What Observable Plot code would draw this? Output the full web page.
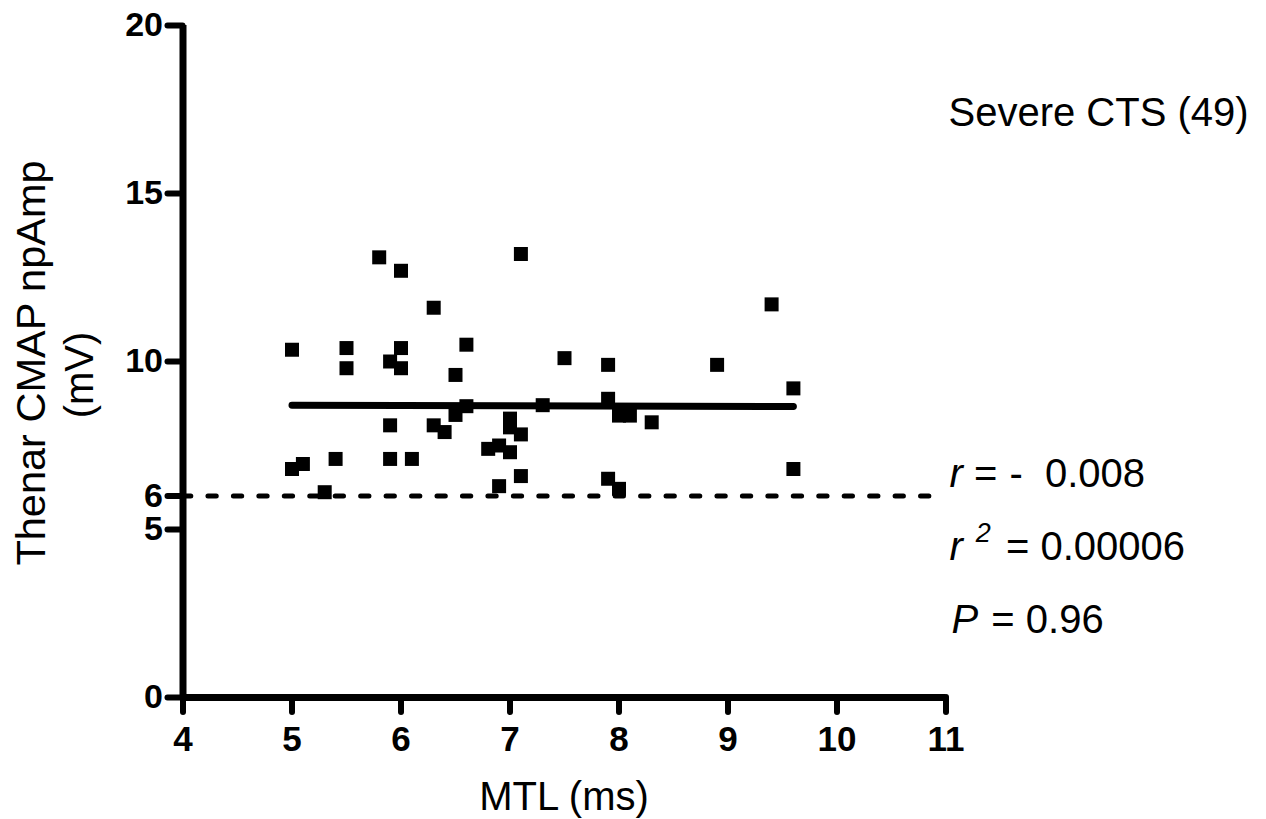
<!DOCTYPE html>
<html><head><meta charset="utf-8">
<script src="https://cdn.jsdelivr.net/npm/d3@7"></script>
<script src="https://cdn.jsdelivr.net/npm/@observablehq/plot@0.6"></script>
<style>
body{margin:0;background:#fff}
svg{display:block}
text{white-space:pre}
</style>
</head><body><div id="chart"></div>
<script>
// ---- data ----
const mtl = [5.8, 6.0, 7.1, 6.3, 5.0, 5.5, 6.0, 6.6, 5.5, 5.9, 6.0, 6.5, 7.5, 6.6, 6.5, 7.3, 5.9, 6.3, 6.4, 7.0, 7.0, 7.1, 6.8, 6.9, 7.0, 5.0, 5.1, 5.4, 5.9, 6.1, 5.3, 7.1, 6.9, 7.9, 8.9, 9.4, 9.6, 7.9, 8.0, 8.1, 8.3, 7.9, 8.0, 9.6];
const amp = [13.1, 12.7, 13.2, 11.6, 10.35, 10.4, 10.4, 10.5, 9.8, 10.0, 9.8, 9.6, 10.1, 8.67, 8.41, 8.7, 8.1, 8.1, 7.9, 8.3, 8.04, 7.83, 7.4, 7.5, 7.3, 6.8, 6.95, 7.1, 7.1, 7.1, 6.11, 6.59, 6.29, 9.9, 9.9, 11.7, 9.2, 8.89, 8.39, 8.39, 8.19, 6.51, 6.21, 6.8];
const fitX = [5.0, 9.6];
const fitY = [8.70, 8.66];
const thresholdY = [6];
const thresholdX = [4, 10.85];
const xTicks = [4, 5, 6, 7, 8, 9, 10, 11];
const yTicks = [0, 5, 6, 10, 15, 20];
const xDomain = [4, 11];
const yDomain = [0, 20];
const groupLabel = "Severe CTS (49)";
const xTitle = "MTL (ms)";
const yTitleLines = ["Thenar CMAP npAmp", "(mV)"];
const statR = "- 0.008";
const statR2 = "0.00006";
const statP = "0.96";

// ---- tables built from the arrays ----
const points = mtl.map((x, i) => ({x, y: amp[i]}));
const fit = fitX.map((x, i) => ({x, y: fitY[i]}));
const thresh = thresholdY.map(y => ({y, x1: thresholdX[0], x2: thresholdX[1]}));
const xAxisLine = [{y: yDomain[0], x1: xDomain[0], x2: xDomain[1]}];
const yAxisLine = [{x: xDomain[0], y1: yDomain[0], y2: yDomain[1]}];

const FONT = "'Liberation Sans', Arial, Helvetica, sans-serif";

const chart = Plot.plot({
  width: 1266,
  height: 819,
  marginLeft: 182.5,
  marginRight: 320.5,
  marginTop: 25,
  marginBottom: 122,
  x: {domain: xDomain},
  y: {domain: yDomain},
  style: {fontFamily: FONT, background: "white", color: "black"},
  marks: [
    Plot.ruleY(thresh, {y: "y", x1: "x1", x2: "x2", stroke: "black", strokeWidth: 5, strokeDasharray: "8.3,17.15", strokeLinecap: "round"}),
    Plot.line(fit, {x: "x", y: "y", stroke: "black", strokeWidth: 7, strokeLinecap: "round"}),
    Plot.dot(points, {x: "x", y: "y", symbol: "square", r: 7.9, fill: "black", stroke: null}),
    Plot.axisX(xTicks, {tickSize: 15, tickPadding: 14, strokeWidth: 6, strokeLinecap: "round", fontSize: 35, fontWeight: "bold", label: null}),
    Plot.axisY(yTicks, {tickSize: 15, tickPadding: 5, strokeWidth: 6, strokeLinecap: "round", fontSize: 34, fontWeight: "bold", label: null}),
    Plot.ruleY(xAxisLine, {y: "y", x1: "x1", x2: "x2", stroke: "black", strokeWidth: 7}),
    Plot.ruleX(yAxisLine, {x: "x", y1: "y1", y2: "y2", stroke: "black", strokeWidth: 7})
  ]
});

document.getElementById("chart").appendChild(chart);

// ---- annotations positioned from the plot's own scales ----
const sx = chart.scale("x"), sy = chart.scale("y");
const xRight = sx.apply(xDomain[1]);
const svg = d3.select(chart);
const g = svg.append("g").attr("font-family", FONT).attr("fill", "black").attr("text-anchor", "start");

// x title
g.append("text")
  .attr("x", (sx.apply(xDomain[0]) + xRight) / 2)
  .attr("y", sy.apply(yDomain[0]) + 113)
  .attr("text-anchor", "middle")
  .attr("font-size", 40)
  .text(xTitle);

// y title (two lines, rotated)
const yMid = (sy.apply(yDomain[0]) + sy.apply(yDomain[1])) / 2;
const yt = g.append("text")
  .attr("transform", `translate(45,${yMid + 2}) rotate(-90)`)
  .attr("text-anchor", "middle")
  .attr("font-size", 41.5);
yt.append("tspan").attr("x", 0).attr("y", 0).text(yTitleLines[0]);
yt.append("tspan").attr("x", -12).attr("y", 48).attr("font-size", 40).text(yTitleLines[1]);

// group label
g.append("text")
  .attr("x", xRight + 3)
  .attr("y", 126)
  .attr("text-anchor", "start")
  .attr("font-size", 40)
  .text(groupLabel);

// statistics
const sxStat = xRight + 4;
const t1 = g.append("text").attr("x", sxStat).attr("y", 487).attr("font-size", 40).attr("text-anchor", "start");
t1.append("tspan").attr("font-style", "italic").text("r");
t1.append("tspan").text(" = ");
t1.append("tspan").attr("dx", 1).text(statR.replace(" ", "  "));

const t2 = g.append("text").attr("x", sxStat).attr("y", 560).attr("font-size", 40).attr("text-anchor", "start");
t2.append("tspan").attr("font-style", "italic").text("r");
t2.append("tspan").attr("font-style", "italic").attr("font-size", 27).attr("dx", 13).attr("dy", -18).text("2");
t2.append("tspan").attr("dy", 18).attr("dx", 4).text(" = " + statR2);

const t3 = g.append("text").attr("x", sxStat + 2).attr("y", 633).attr("font-size", 40).attr("text-anchor", "start");
t3.append("tspan").attr("font-style", "italic").text("P");
t3.append("tspan").attr("dx", 2).text(" = " + statP);
</script>
</body></html>
